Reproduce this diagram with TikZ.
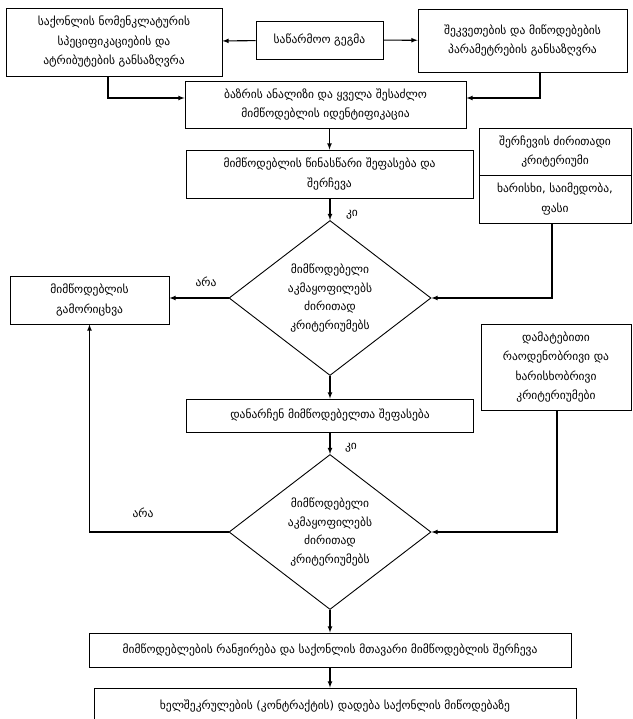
\documentclass[tikz,border=0pt]{standalone}
\usepackage{fontspec}
\setmainfont{DejaVu Sans}
\usetikzlibrary{positioning}
\usetikzlibrary{arrows}
\usetikzlibrary{shapes.geometric}
\tikzset{>=latex,
box/.style={ % Sets the properties for each rectangle
draw,
line width=0.9pt,
align=center,
inner sep=2pt,
font=\fontsize{11.5pt}{19.5pt}\selectfont},
test/.style={ % Decision diamonds
diamond,
draw,
line width=0.9pt,
align=center,
inner sep=0pt,
minimum width=202pt,
minimum height=155pt,
font=\fontsize{11.5pt}{18.5pt}\selectfont},
note/.style={font=\fontsize{11.5pt}{12pt}\selectfont}, % yes / no labels
flow/.style={ % Sets the properties for each connector
draw,
->,
line width=1.1pt}}

\begin{document}
\begin{tikzpicture}[x=1pt,y=-1pt,on grid]
  \useasboundingbox (0,0) rectangle (632,719);
  \node[box,minimum width=127pt,minimum height=38pt] (plan)   at (319.5,40)   {საწარმოო გეგმა};
  \node[box,minimum width=216pt,minimum height=68pt] (nomen)  at (114,42)     {საქონლის ნომენკლატურის\\სპეციფიკაციების და\\ატრიბუტების განსაზღვრა};
  \node[box,minimum width=209pt,minimum height=63pt] (param)  at (522.5,40.5) {შეკვეთების და მიწოდებების\\პარამეტრების განსაზღვრა};
  \node[box,minimum width=281pt,minimum height=47pt] (market) at (325.5,104.5) {ბაზრის ანალიზი და ყველა შესაძლო\\მიმწოდებლის იდენტიფიკაცია};
  \node[box,minimum width=287pt,minimum height=48pt] (prelim) [below=69.5pt of market,xshift=4pt] {მიმწოდებლის წინასწარი შეფასება და\\შერჩევა};
  \node[test] (dec1) [below=124pt of prelim,xshift=0.5pt] {მიმწოდებელი\\აკმაყოფილებს\\ძირითად\\კრიტერიუმებს};
  \node[box,minimum width=287pt,minimum height=33pt] (rest)   [below=117.5pt of dec1] {დანარჩენ მიმწოდებელთა შეფასება};
  \node[test] (dec2) [below=116.5pt of rest] {მიმწოდებელი\\აკმაყოფილებს\\ძირითად\\კრიტერიუმებს};
  \node[box,minimum width=482pt,minimum height=34pt] (rank)   [below=118pt of dec2] {მიმწოდებლების რანჟირება და საქონლის მთავარი მიმწოდებლის შერჩევა};
  \node[box,minimum width=482pt,minimum height=36pt] (contract) [below=56pt of rank,xshift=5pt] {ხელშეკრულების (კონტრაქტის) დადება საქონლის მიწოდებაზე};
  \node[box,minimum width=152pt,minimum height=47pt] (crithead) at (555,151.5) {შერჩევის ძირითადი\\კრიტერიუმი};
  \node[box,minimum width=152pt,minimum height=48pt] (critbody) [below=47.5pt of crithead] {ხარისხი, საიმედობა,\\ფასი};
  \node[box,minimum width=150pt,minimum height=86pt] (extra)  at (556,367)   {დამატებითი\\რაოდენობრივი და\\ხარისხობრივი\\კრიტერიუმები};
  \node[box,minimum width=159pt,minimum height=48pt] (reject) at (89.5,300)  {მიმწოდებლის\\გამორიცხვა};
  \node[note] (yes1) at (352,215) {კი};
  \node[note] (yes2) at (351,448) {კი};
  \node[note] (no1)  at (206,282) {არა};
  \node[note] (no2)  at (143,513) {არა};
  \path[flow] (plan) -- (nomen);
  \path[flow] (plan) -- (param);
  \path[flow] ([xshift=-6pt]nomen.south) |- ([yshift=6.5pt]market.west);
  \path[flow] ([xshift=17.5pt]param.south) |- ([yshift=6.5pt]market.east);
  \path[flow] (prelim.north |- market.south) -- (prelim.north);
  \path[flow] (prelim.south -| dec1.north) -- (dec1.north);
  \path[flow] ([xshift=-3pt]critbody.south) |- (dec1.east);
  \path[flow] (dec1.west) -- (reject.east |- dec1.west);
  \path[flow] (dec1.south) -- (rest.north -| dec1.south);
  \path[flow] (rest.south -| dec2.north) -- (dec2.north);
  \path[flow] ([xshift=1pt]extra.south) |- (dec2.east);
  \path[flow] (dec2.west) -| (reject.south);
  \path[flow] (dec2.south) -- (rank.north -| dec2.south);
  \path[flow] (rank.south -| dec2.south) -- (contract.north -| dec2.south);
\end{tikzpicture}
\end{document}
